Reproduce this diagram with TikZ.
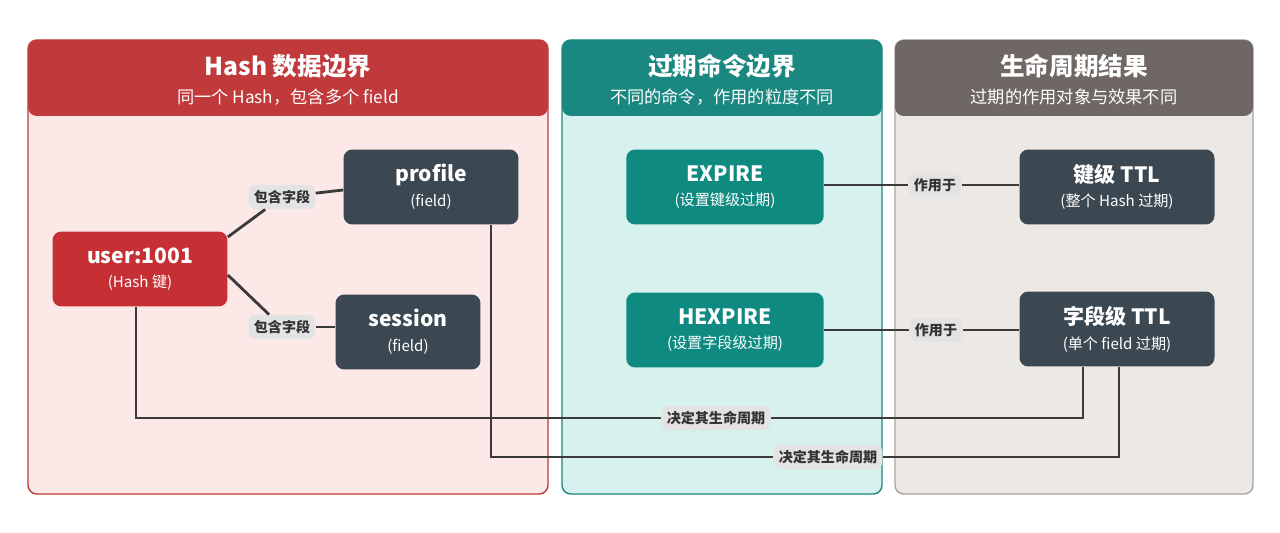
\documentclass[tikz,border=0pt]{standalone}
\usepackage{fontspec}
\setmainfont{Noto Sans CJK SC}
\usepackage{tikz}
\usetikzlibrary{positioning}
\definecolor{hashRed}{HTML}{C0393B}
\definecolor{hashPink}{HTML}{FDE8E8}
\definecolor{cmdTeal}{HTML}{1A8781}
\definecolor{cmdMint}{HTML}{D6F1EE}
\definecolor{lifeGray}{HTML}{6F6763}
\definecolor{lifeSand}{HTML}{ECE8E4}
\definecolor{keyRed}{HTML}{C62F33}
\definecolor{slate}{HTML}{3B4852}
\definecolor{expTeal}{HTML}{0E8A80}
\definecolor{tagGray}{HTML}{E3E3E3}
\definecolor{wireGray}{HTML}{3A3A3A}
\newcommand\subtxt[1]{{\fontsize{8.6}{10}\selectfont\mdseries #1}}
\tikzset{
  box/.style={rounded corners=5pt, minimum width=3.5cm, minimum height=1.5cm,
    align=center, text=white, font=\fontsize{12}{15}\selectfont\bfseries},
  tag/.style={fill=tagGray, rounded corners=4pt, inner sep=3pt,
    font=\fontsize{8}{10}\selectfont\bfseries, text=black!80},
  wire/.style={draw=wireGray, line width=1.6pt}
}
\begin{document}
\begin{tikzpicture}[x=0.02cm, y=-0.02cm]
\fill[white] (0,0) rectangle (1280,533);
% panels
\fill[hashPink, draw=hashRed, line width=0.8pt, rounded corners=5pt] (28,40) rectangle (548,494);
\fill[hashRed, rounded corners=5pt] (28,40) rectangle (548,116);
\fill[cmdMint, draw=cmdTeal, line width=0.8pt, rounded corners=5pt] (562,40) rectangle (882,494);
\fill[cmdTeal, rounded corners=5pt] (562,40) rectangle (882,116);
\fill[lifeSand, draw=lifeGray!60, line width=0.8pt, rounded corners=5pt] (895,40) rectangle (1253,494);
\fill[lifeGray, rounded corners=5pt] (895,40) rectangle (1253,116);
\node[text=white, font=\fontsize{14}{16}\selectfont\bfseries] (hashTitle) at (288,66) {Hash 数据边界};
\node[text=white, font=\fontsize{9.8}{11}\selectfont] (hashSub) at (288,97) {同一个 Hash，包含多个 field};
\node[text=white, font=\fontsize{14}{16}\selectfont\bfseries] (cmdTitle) at (722,66) {过期命令边界};
\node[text=white, font=\fontsize{9.8}{11}\selectfont] (cmdSub) at (722,97) {不同的命令，作用的粒度不同};
\node[text=white, font=\fontsize{14}{16}\selectfont\bfseries] (lifeTitle) at (1074,66) {生命周期结果};
\node[text=white, font=\fontsize{9.8}{11}\selectfont] (lifeSub) at (1074,97) {过期的作用对象与效果不同};
% nodes
\node[box, fill=keyRed] (user) at (140,269) {user:1001\\[-1pt]\subtxt{(Hash 键)}};
\node[box, fill=slate] (profile) at (431,187) {profile\\[-1pt]\subtxt{(field)}};
\node[box, fill=slate, minimum width=2.9cm] (session) at (408,332) {session\\[-1pt]\subtxt{(field)}};
\node[box, fill=expTeal, minimum width=3.95cm] (expire) at (725,187) {EXPIRE\\[-1pt]\subtxt{(设置键级过期)}};
\node[box, fill=expTeal, minimum width=3.95cm] (hexpire) at (725,330) {HEXPIRE\\[-1pt]\subtxt{(设置字段级过期)}};
\node[box, fill=slate, minimum width=3.9cm] (keyTTL) at (1117,187) {键级 TTL\\[-1pt]\subtxt{(整个 Hash 过期)}};
\node[box, fill=slate, minimum width=3.9cm] (fieldTTL) at (1117,329) {字段级 TTL\\[-1pt]\subtxt{(单个 field 过期)}};
% connectors
\node[tag] (hasA) at (282,197) {包含字段};
\node[tag] (hasB) at (282,327) {包含字段};
\draw[wire] (user.east |- 0,237) -- (hasA);
\draw[wire] (hasA) -- (profile.west |- 0,190);
\draw[wire] (user.east |- 0,275) -- (hasB);
\draw[wire] (hasB) -- (session.west |- hasB);
\node[tag] (actA) at (935,185) {作用于};
\node[tag] (actB) at (936,330) {作用于};
\draw[wire] (expire.east |- actA) -- (actA) -- (keyTTL.west |- actA);
\draw[wire] (hexpire.east |- actB) -- (actB) -- (fieldTTL.west |- actB);
\node[tag] (lifeA) at (716,418) {决定其生命周期};
\node[tag] (lifeB) at (828,457) {决定其生命周期};
\draw[wire] (user.south -| 136,0) |- (lifeA) -| (fieldTTL.south -| 1083,0);
\draw[wire] (profile.south -| 491,0) |- (lifeB) -| (fieldTTL.south -| 1119,0);
\end{tikzpicture}
\end{document}
